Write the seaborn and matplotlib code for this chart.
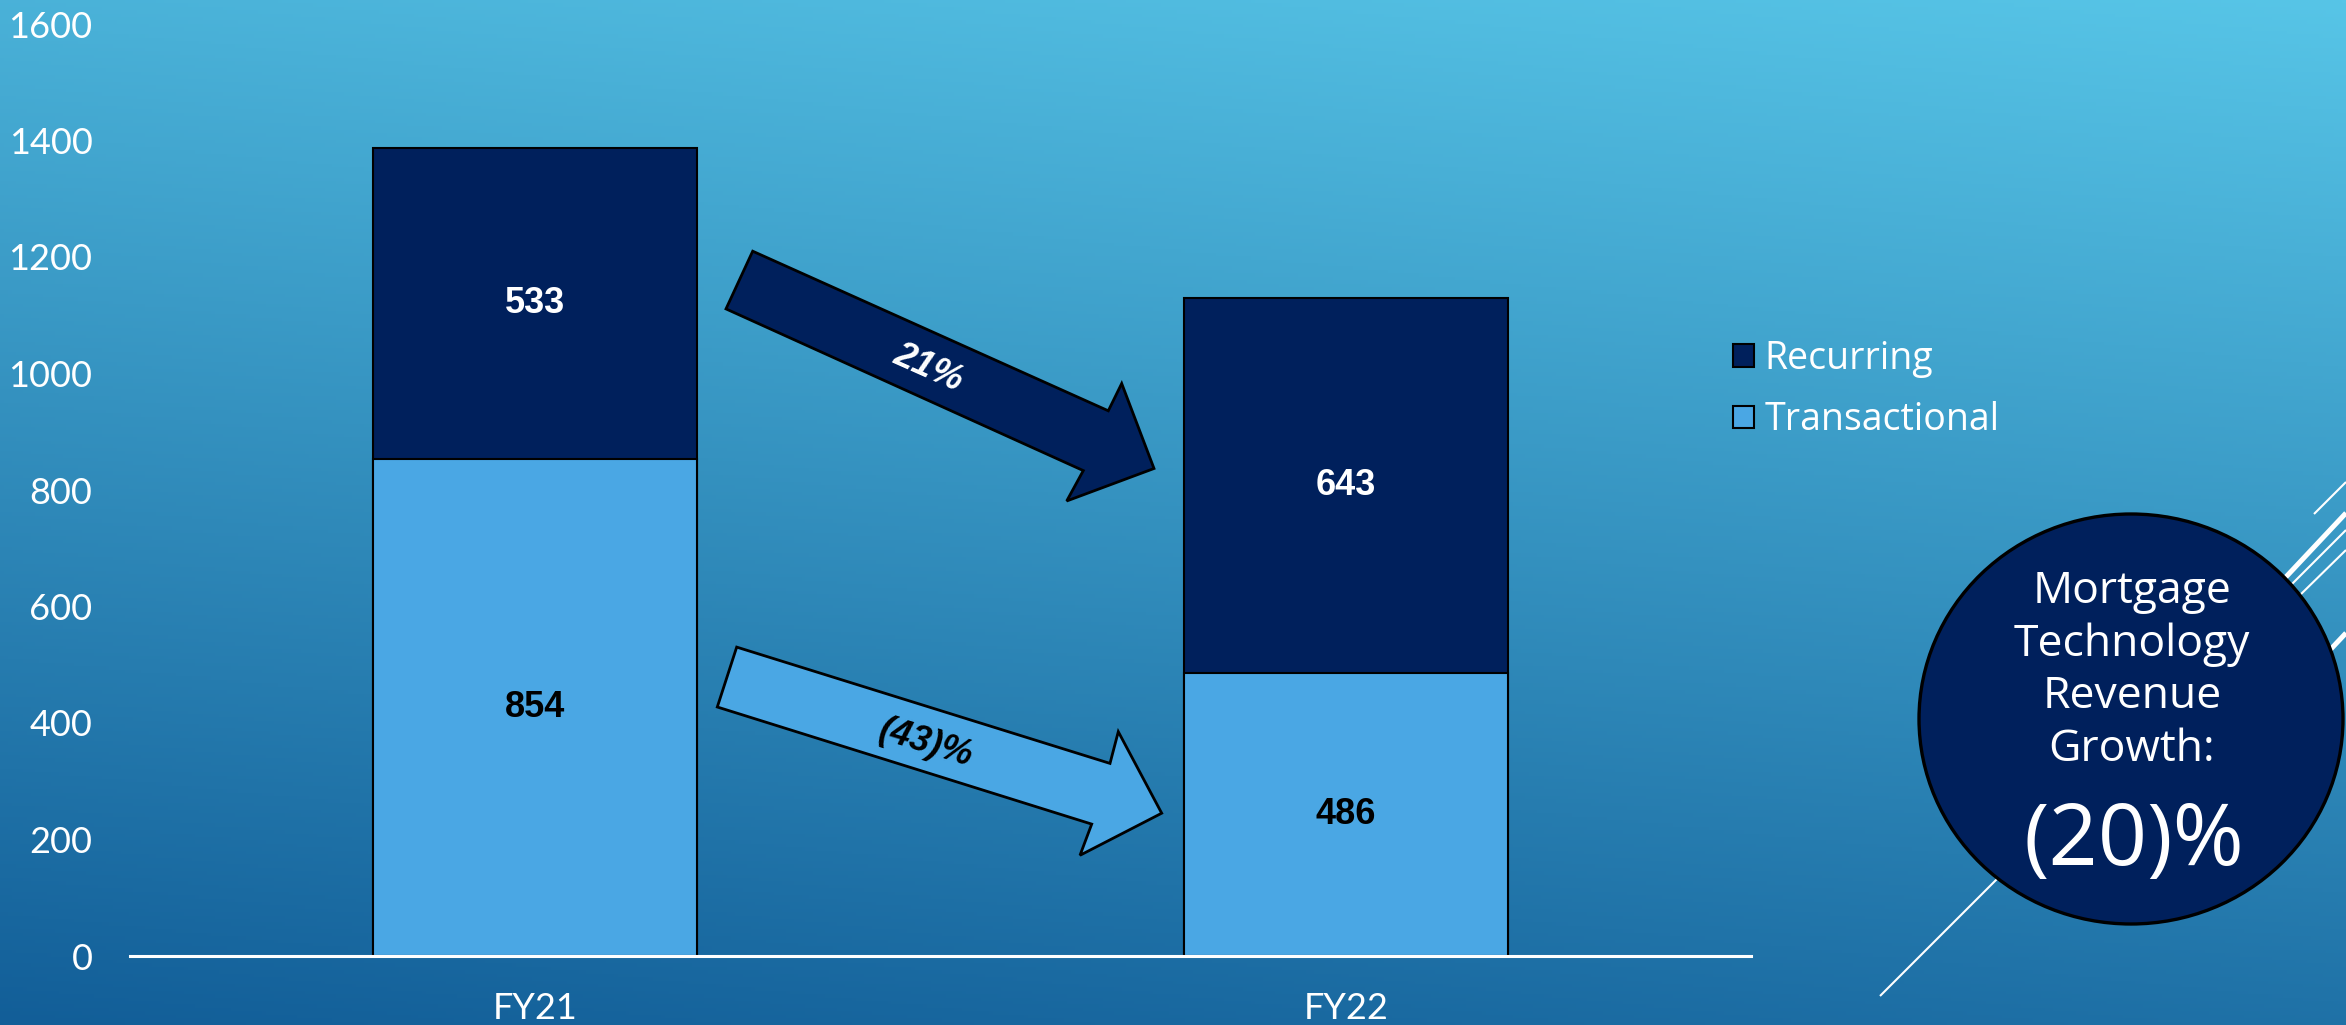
import numpy as np
import matplotlib
matplotlib.use("Agg")
import matplotlib.pyplot as plt
from matplotlib.patches import Polygon, Ellipse, Patch
import seaborn as sns

# ---- data -------------------------------------------------------------
categories = ["FY21", "FY22"]
transactional = [854, 486]
recurring = [533, 643]
series_names = ["Recurring", "Transactional"]
yticks = [0, 200, 400, 600, 800, 1000, 1200, 1400, 1600]
recurring_growth = "21%"
transactional_growth = "(43)%"
total_growth_title = ["Mortgage", "Technology", "Revenue", "Growth:"]
total_growth = "(20)%"

DARK = "#00205C"
LIGHT = "#4AA7E4"
W, H = 2346, 1025
TEXT_FONT = ["Open Sans", "Lato", "DejaVu Sans"]
NUM_FONT = ["Lato", "DejaVu Sans"]
BOLD_FONT = ["Liberation Sans", "DejaVu Sans"]

sns.set_style("white")
plt.rcParams["font.family"] = NUM_FONT

fig = plt.figure(figsize=(W / 100, H / 100), dpi=100)

# ---- slide background gradient -------------------------------------
bg = fig.add_axes([0, 0, 1, 1], zorder=0)
yy, xx = np.mgrid[0:1:300j, 0:1:600j]
t = (yy + 0.23 * (1 - xx)) / 1.23
c0 = np.array([0x57, 0xC5, 0xE7]) / 255
c1 = np.array([0x12, 0x5E, 0x98]) / 255
img = c0 + t[..., None] * (c1 - c0)
bg.imshow(img, extent=[0, 1, 0, 1], origin="upper", aspect="auto")
bg.axis("off")

# ---- stacked bar chart ------------------------------------------------
ax = fig.add_axes([130 / W, (H - 956) / H, (1751 - 130) / W, (956 - 24) / H], zorder=1)
ax.patch.set_alpha(0)
totals = [a + b for a, b in zip(transactional, recurring)]
sns.barplot(x=categories, y=totals, color=DARK, width=0.4, saturation=1,
            edgecolor="black", linewidth=1.5, ax=ax)
sns.barplot(x=categories, y=transactional, color=LIGHT, width=0.4, saturation=1,
            edgecolor="black", linewidth=1.5, ax=ax)

for i, (tr, rc) in enumerate(zip(transactional, recurring)):
    ax.text(i, tr / 2, f"{tr}", ha="center", va="center", color="black",
            fontsize=26, fontweight="bold", family=BOLD_FONT)
    ax.text(i, tr + rc / 2, f"{rc}", ha="center", va="center", color="white",
            fontsize=26, fontweight="bold", family=BOLD_FONT)

ax.set_xlim(-0.5, 1.5)
ax.set_ylim(0, 1600)
ax.set_yticks(yticks)
ax.set_yticklabels([str(v) for v in yticks])
ax.set_xlabel("")
ax.set_ylabel("")
ax.tick_params(axis="y", length=0, pad=27, labelsize=26, labelcolor="white")
ax.tick_params(axis="x", length=0, pad=26, labelsize=26, labelcolor="white")
for lab in ax.get_xticklabels() + ax.get_yticklabels():
    lab.set_fontweight("normal")
for side in ["left", "right", "top"]:
    ax.spines[side].set_visible(False)
ax.spines["bottom"].set_color("white")
ax.spines["bottom"].set_linewidth(2.2)
ax.grid(False)

handles = [Patch(facecolor=DARK, edgecolor="black", linewidth=1.5),
           Patch(facecolor=LIGHT, edgecolor="black", linewidth=1.5)]
leg = fig.legend(handles, series_names, loc="upper left",
                 bbox_to_anchor=(1733 / W, 1 - 340 / H), frameon=False,
                 prop={"family": TEXT_FONT, "size": 27},
                 handlelength=0.55, handleheight=0.55,
                 handletextpad=0.3, labelspacing=0.62, borderpad=0,
                 borderaxespad=0)
for txt in leg.get_texts():
    txt.set_color("white")

# ---- overlay: growth arrows, badge and slide lines -----------------------
ov = fig.add_axes([0, 0, 1, 1], zorder=3)
ov.set_xlim(0, W)
ov.set_ylim(H, 0)
ov.axis("off")
ov.patch.set_alpha(0)

dark_arrow = [(752.7, 251.2), (726.0, 308.9), (1083.3, 470.6), (1066.7, 501.0),
              (1154.0, 468.5), (1121.7, 383.5), (1108.3, 410.8)]
light_arrow = [(736.7, 647.1), (717.3, 707.0), (1091.7, 824.1), (1080.0, 855.3),
               (1161.7, 813.2), (1118.3, 731.7), (1110.0, 763.4)]
ov.add_patch(Polygon(dark_arrow, closed=True, facecolor=DARK, edgecolor="black",
                     linewidth=2, joinstyle="miter"))
ov.add_patch(Polygon(light_arrow, closed=True, facecolor=LIGHT, edgecolor="black",
                     linewidth=2, joinstyle="miter"))
ov.text(928, 368, recurring_growth, rotation=-24, ha="center", va="center",
        color="white", fontsize=26, fontweight="bold", fontstyle="italic",
        family=BOLD_FONT, rotation_mode="anchor")
ov.text(926, 743, transactional_growth, rotation=-17, ha="center", va="center",
        color="black", fontsize=26, fontweight="bold", fontstyle="italic",
        family=BOLD_FONT, rotation_mode="anchor")

# thin white slide accent lines behind the badge
accent = [((2100, 775), (2346, 513), 3.6),
          ((1880, 996), (2346, 530), 1.5),
          ((2314, 514), (2346, 482), 1.5),
          ((2200, 693), (2346, 550), 1.5),
          ((2250, 735), (2346, 633), 3.6)]
for (x0, y0), (x1, y1), lw in accent:
    ov.plot([x0, x1], [y0, y1], color="white", linewidth=lw,
            solid_capstyle="butt", zorder=1)

ov.add_patch(Ellipse((2131, 719), 424, 410, facecolor=DARK, edgecolor="black",
                     linewidth=2.4, zorder=2))
for k, line in enumerate(total_growth_title):
    ov.text(2132, 592 + k * 52.5, line, ha="center", va="center",
            color="white", fontsize=32, family=TEXT_FONT, zorder=3)
ov.text(2134, 843, total_growth, ha="center", va="center", color="white",
        fontsize=62, family=TEXT_FONT, zorder=3)

fig.savefig("out.png", dpi=100)
